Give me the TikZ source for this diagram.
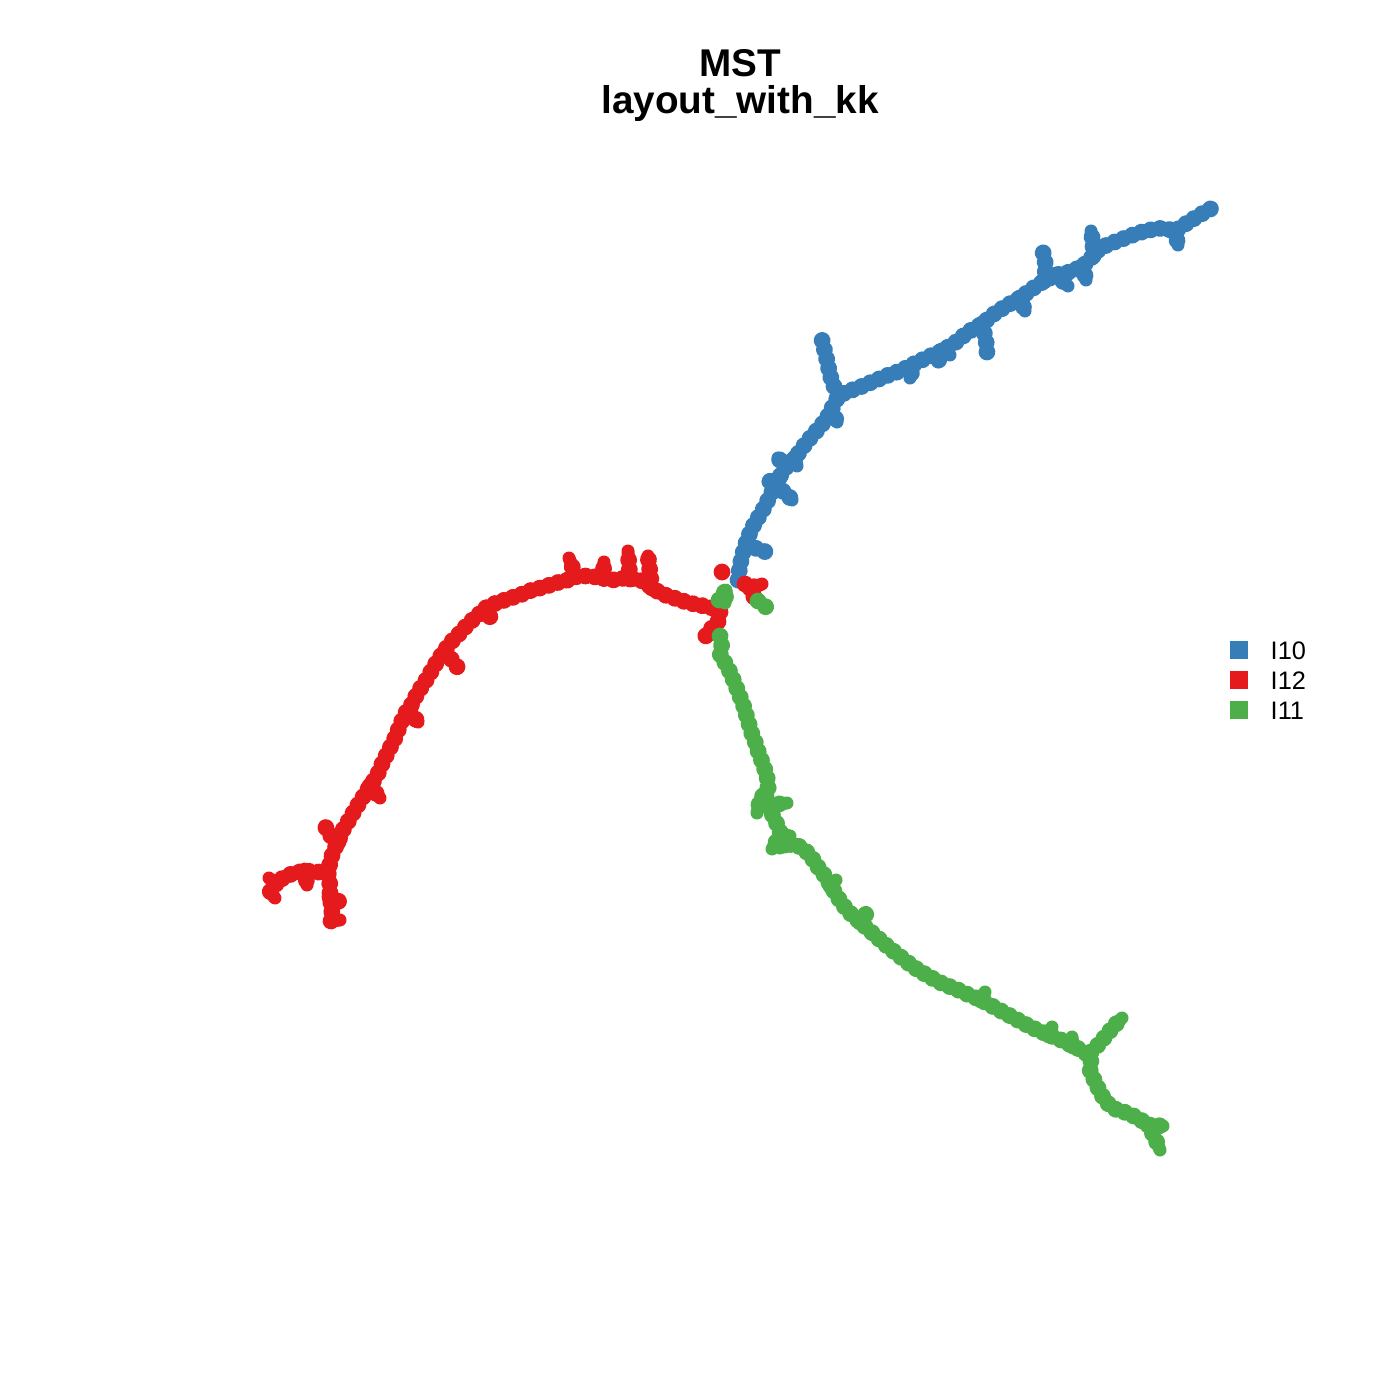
\documentclass[tikz,border=0pt]{standalone}
\usepackage{fontspec}
\setmainfont{Liberation Sans}
\usetikzlibrary{decorations.markings}
\definecolor{cblue}{HTML}{377EB8}
\definecolor{cred}{HTML}{E41A1C}
\definecolor{cgreen}{HTML}{4DAF4A}
\tikzset{
  branch/.style={draw=#1, line width=0.13cm, line cap=round, line join=round,
    postaction={decorate, decoration={markings,
      mark=between positions 0 and 1 step 0.095cm with {\fill[#1] (0,0) circle (0.084cm);}}}},
  legbox/.style={fill=#1, draw=none, minimum size=0.18cm, inner sep=0pt},
  legtext/.style={anchor=west, font=\fontsize{7.2}{8}\selectfont, inner sep=0pt},
  title/.style={font=\fontsize{11}{13}\selectfont\bfseries, align=center, inner sep=0pt}
}
\begin{document}
\begin{tikzpicture}[x=0.01cm, y=-0.01cm]
\useasboundingbox (0,0) rectangle (1400,1400);
\node[title] (t1) at (740,63) {MST};
\node[title] (t2) at (740,103) {layout\_with\_kk};
% ---------- blue I10
\path[branch=cblue] (738,580) -- (740,565) -- (743,553) -- (747,540) -- (752,528) -- (758,518) -- (764,508) -- (769,498) -- (774,488) -- (779,478) -- (786,467) -- (795,458) -- (803,447) -- (811,437) -- (820,427) -- (827,418) -- (832,408) -- (838,397) -- (846,392) -- (858,388) -- (872,382) -- (886,376) -- (900,371) -- (914,364) -- (928,357) -- (942,351) -- (956,342) -- (968,332) -- (982,324) -- (994,314) -- (1006,306) -- (1020,298) -- (1032,289) -- (1044,281) -- (1056,275) -- (1070,272) -- (1083,266) -- (1093,256) -- (1100,248) -- (1112,243) -- (1125,238) -- (1138,233) -- (1150,230) -- (1163,228) -- (1175,231) -- (1187,223) -- (1198,216) -- (1212,208);
\path[branch=cblue] (838,395) -- (832,382) -- (829,370) -- (826,356) -- (822,340);
\path[branch=cblue] (832,410) -- (837,422);
\path[branch=cblue] (786,467) -- (778,458);
\path[branch=cblue] (795,458) -- (797,466);
\path[branch=cblue] (774,488) -- (785,492) -- (792,500);
\path[branch=cblue] (779,478) -- (768,482);
\path[branch=cblue] (747,545) -- (755,548) -- (766,552);
\path[branch=cblue] (914,364) -- (910,378);
\path[branch=cblue] (942,351) -- (938,362);
\path[branch=cblue] (942,351) -- (950,355);
\path[branch=cblue] (982,324) -- (986,340) -- (987,353);
\path[branch=cblue] (1020,298) -- (1025,311);
\path[branch=cblue] (1044,281) -- (1046,266) -- (1043,252);
\path[branch=cblue] (1056,275) -- (1068,286);
\path[branch=cblue] (1083,266) -- (1086,280);
\path[branch=cblue] (1093,256) -- (1093,243) -- (1091,231);
\path[branch=cblue] (1175,231) -- (1178,245);
% ---------- red I12
\path[branch=cred] (720,612) -- (710,607) -- (698,605) -- (686,602) -- (674,598) -- (662,594) -- (652,588) -- (645,582) -- (637,579) -- (625,578) -- (613,580) -- (601,578) -- (590,576) -- (578,576) -- (568,580) -- (556,583) -- (544,587) -- (532,590) -- (520,595) -- (508,599) -- (496,603) -- (486,608) -- (477,616) -- (468,624) -- (461,632) -- (453,640) -- (445,650) -- (438,660) -- (432,670) -- (425,682) -- (418,692) -- (412,704) -- (405,714) -- (400,725) -- (396,736) -- (391,746) -- (386,756) -- (381,766) -- (377,776) -- (370,786) -- (363,797) -- (356,808) -- (349,820) -- (343,830) -- (338,842) -- (333,852) -- (330,863) -- (328,873) -- (330,885) -- (330,897) -- (332,910) -- (331,921);
\path[branch=cred] (718,612) -- (718,622) -- (710,630) -- (705,637);
\path[branch=cred] (575,576) -- (572,566) -- (569,558);
\path[branch=cred] (603,578) -- (604,562);
\path[branch=cred] (630,579) -- (629,565) -- (628,551);
\path[branch=cred] (652,588) -- (650,572) -- (648,556);
\path[branch=cred] (486,608) -- (490,617);
\path[branch=cred] (445,652) -- (452,660) -- (458,668);
\path[branch=cred] (410,712) -- (418,722);
\path[branch=cred] (370,786) -- (380,798);
\path[branch=cred] (338,842) -- (330,835) -- (325,826);
\path[branch=cred] (328,873) -- (318,872) -- (305,871) -- (294,873) -- (284,877) -- (276,884) -- (269,878);
\path[branch=cred] (276,884) -- (270,892) -- (275,898);
\path[branch=cred] (305,871) -- (307,885);
\path[branch=cred] (330,897) -- (340,902);
\path[branch=cred] (331,921) -- (340,920);
\path[branch=cred] (722,572) -- (723,573);
\path[branch=cred] (745,584) -- (755,587) -- (762,584);
\path[branch=cred] (750,588) -- (754,597);
% ---------- green I11
\path[branch=cgreen] (719,600) -- (726,590) -- (725,603);
\path[branch=cgreen] (758,601) -- (766,607);
\path[branch=cgreen] (720,636) -- (722,648) -- (720,656) -- (726,664) -- (731,674) -- (735,684) -- (739,694) -- (743,704) -- (746,714) -- (749,724) -- (752,734) -- (756,744) -- (759,754) -- (763,764) -- (767,776) -- (768,788) -- (766,798) -- (770,810) -- (776,822) -- (781,834) -- (785,845) -- (795,844) -- (805,850) -- (812,858) -- (818,867) -- (825,876) -- (831,886) -- (837,896) -- (843,905) -- (851,914) -- (860,922) -- (869,930) -- (878,938) -- (887,946) -- (897,954) -- (907,962) -- (918,970) -- (930,977) -- (943,984) -- (956,989) -- (969,995) -- (981,1000) -- (992,1006) -- (1003,1012) -- (1014,1018) -- (1025,1024) -- (1037,1030) -- (1049,1035) -- (1061,1040) -- (1073,1046) -- (1085,1052) -- (1091,1060) -- (1090,1070) -- (1095,1082) -- (1100,1092) -- (1106,1102) -- (1115,1109) -- (1127,1113) -- (1138,1118) -- (1148,1125) -- (1163,1126);
\path[branch=cgreen] (1091,1052) -- (1100,1043) -- (1108,1033) -- (1116,1024) -- (1122,1018);
\path[branch=cgreen] (1148,1125) -- (1155,1138) -- (1160,1150);
\path[branch=cgreen] (768,788) -- (760,800) -- (757,813);
\path[branch=cgreen] (770,805) -- (787,803);
\path[branch=cgreen] (781,834) -- (772,849);
\path[branch=cgreen] (781,834) -- (790,836);
\path[branch=cgreen] (785,845) -- (780,848);
\path[branch=cgreen] (831,886) -- (836,880);
\path[branch=cgreen] (860,922) -- (866,914);
\path[branch=cgreen] (981,1000) -- (985,992);
\path[branch=cgreen] (1049,1035) -- (1052,1027);
\path[branch=cgreen] (1073,1046) -- (1072,1037);
% ---------- legend
\node[legbox=cblue] (lb1) at (1239,650) {};
\node[legbox=cred] (lb2) at (1239,680) {};
\node[legbox=cgreen] (lb3) at (1239,710) {};
\node[legtext] (lt1) at (1270,651) {I10};
\node[legtext] (lt2) at (1270,681) {I12};
\node[legtext] (lt3) at (1270,711) {I11};
\end{tikzpicture}
\end{document}
